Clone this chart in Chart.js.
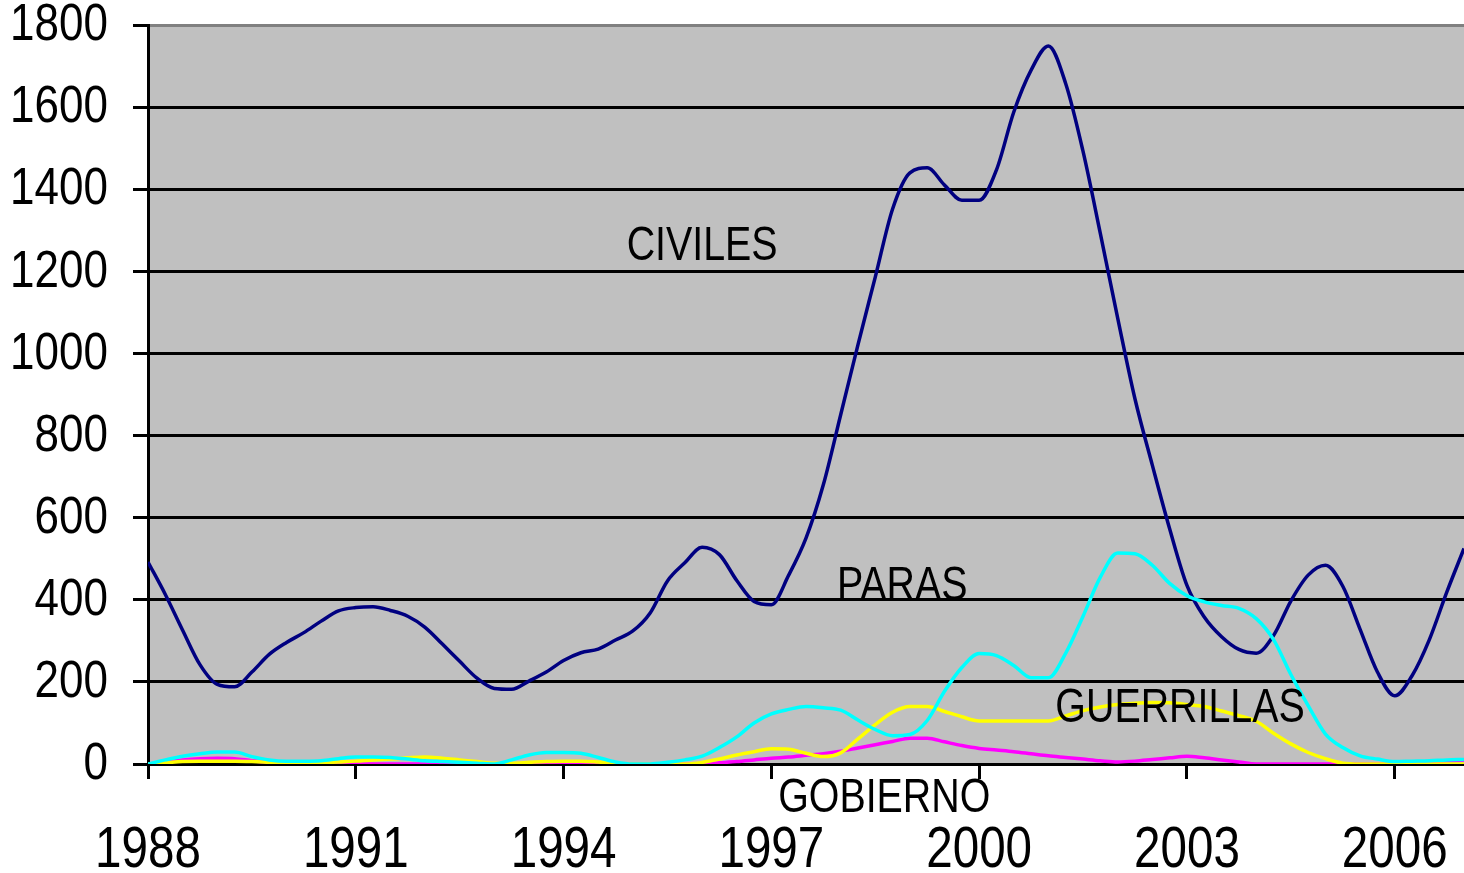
<!DOCTYPE html>
<html>
<head>
<meta charset="utf-8">
<title>Victimas 1988-2007</title>
<script src="https://cdn.jsdelivr.net/npm/chart.js@4.4.1/dist/chart.umd.min.js"></script>
<style>
    body { margin: 0; background: #fff; }
    #wrap { width: 1464px; height: 873px; }
</style>
</head>
<body>
<div id="wrap"><canvas id="victimas"></canvas></div>
<script>
// quarters 1988 - 2007
const quarters = [
    1988, 1988.25, 1988.5, 1988.75, 1989, 1989.25, 1989.5, 1989.75,
    1990, 1990.25, 1990.5, 1990.75, 1991, 1991.25, 1991.5, 1991.75,
    1992, 1992.25, 1992.5, 1992.75, 1993, 1993.25, 1993.5, 1993.75,
    1994, 1994.25, 1994.5, 1994.75, 1995, 1995.25, 1995.5, 1995.75,
    1996, 1996.25, 1996.5, 1996.75, 1997, 1997.25, 1997.5, 1997.75,
    1998, 1998.25, 1998.5, 1998.75, 1999, 1999.25, 1999.5, 1999.75,
    2000, 2000.25, 2000.5, 2000.75, 2001, 2001.25, 2001.5, 2001.75,
    2002, 2002.25, 2002.5, 2002.75, 2003, 2003.25, 2003.5, 2003.75,
    2004, 2004.25, 2004.5, 2004.75, 2005, 2005.25, 2005.5, 2005.75,
    2006, 2006.25, 2006.5, 2006.75, 2007
];

const civiles = [
    492, 413, 326, 242, 194, 188, 224, 267,
    296, 320, 348, 373, 381, 383, 374, 360,
    333, 292, 250, 209, 184, 182, 202, 224,
    252, 271, 280, 302, 324, 368, 446, 490,
    528, 510, 447, 396, 388, 460, 550, 680,
    850, 1021, 1186, 1352, 1440, 1452, 1410, 1373,
    1373, 1447, 1588, 1690, 1749, 1657, 1492, 1292,
    1086, 889, 728, 573, 435, 358, 310, 279,
    270, 313, 397, 460, 484, 433, 328, 224,
    166, 215, 303, 418, 525
];

const paras = [
    0, 10, 19, 25, 29, 29, 18, 10,
    7, 7, 8, 13, 17, 17, 16, 12,
    8, 6, 4, 2, 0, 10, 22, 28,
    28, 26, 16, 5, 0, 0, 4, 10,
    19, 40, 66, 100, 122, 133, 140, 137,
    131, 107, 84, 69, 72, 106, 177, 235,
    269, 264, 240, 210, 210, 270, 360, 455,
    514, 512, 484, 440, 410, 395, 386, 379,
    354, 303, 218, 142, 73, 40, 20, 12,
    6, 7, 8, 10, 11
];

const guerrillas = [
    0, 3, 6, 7, 7, 7, 6, 4,
    2, 2, 3, 5, 7, 10, 12, 15,
    17, 14, 10, 6, 2, 2, 4, 6,
    7, 7, 5, 2, 0, 0, 0, 0,
    4, 12, 22, 30, 37, 36, 26, 18,
    27, 61, 96, 126, 140, 140, 128, 115,
    105, 105, 105, 105, 105, 117, 130, 139,
    145, 148, 150, 149, 145, 140, 129, 118,
    104, 75, 49, 28, 13, 2, 0, 0,
    0, 0, 0, 0, 0
];

const gobierno = [
    0, 5, 10, 13, 14, 13, 8, 4,
    2, 1, 0, 0, 0, 0, 0, 0,
    0, 0, 0, 0, 0, 0, 0, 0,
    0, 0, 0, 0, 0, 0, 0, 0,
    0, 3, 6, 10, 14, 17, 21, 25,
    31, 39, 47, 55, 63, 63, 54, 45,
    38, 34, 30, 25, 20, 16, 12, 8,
    5, 7, 11, 15, 19, 15, 10, 5,
    0, 0, 0, 0, 0, 0, 0, 0,
    0, 3, 5, 7, 9
];

const xTicks = [1988, 1991, 1994, 1997, 2000, 2003, 2006];
const yTicks = [0, 200, 400, 600, 800, 1000, 1200, 1400, 1600, 1800];

// text labels placed in data coordinates
const seriesLabels = [
    { text: 'CIVILES', x: 1996.0, y: 1227 },
    { text: 'PARAS', x: 1998.89, y: 400 },
    { text: 'GUERRILLAS', x: 2002.9, y: 102 },
    { text: 'GOBIERNO', x: 1998.63, y: -117 }
];

const toPoints = vals => vals.map((v, i) => ({ x: quarters[i], y: v }));

// stretched text: the original picture was squeezed/stretched
function stretchText(c, text, x, y, size, sx, sy) {
    c.save();
    c.translate(x, y);
    c.scale(sx, sy);
    c.font = size + 'px "Liberation Sans", Arial, sans-serif';
    c.fillText(text, 0, 0);
    c.restore();
}

const plotBg = {
    id: 'plotBg',
    beforeDraw(chart) {
        const a = chart.chartArea;
        const c = chart.ctx;
        c.save();
        c.fillStyle = '#c0c0c0';
        c.fillRect(a.left, a.top, a.right - a.left, a.bottom - a.top);
        c.restore();
    }
};

const textLayer = {
    id: 'textLayer',
    afterDraw(chart) {
        const c = chart.ctx;
        const sx = chart.scales.x, sy = chart.scales.y;
        c.save();
        c.fillStyle = '#000';
        c.textAlign = 'center';
        c.textBaseline = 'alphabetic';
        seriesLabels.forEach(l => {
            stretchText(c, l.text, sx.getPixelForValue(l.x), sy.getPixelForValue(l.y), 48, 0.82, 1);
        });
        xTicks.forEach(v => {
            stretchText(c, String(v), sx.getPixelForValue(v), 867, 58, 0.82, 1);
        });
        c.textAlign = 'right';
        c.textBaseline = 'middle';
        yTicks.forEach(v => {
            stretchText(c, String(v), 108, sy.getPixelForValue(v) + 1, 44, 1, 1.17);
        });
        c.restore();
    }
};

const ctx = document.getElementById('victimas');

new Chart(ctx, {
    type: 'line',
    data: {
        datasets: [{
            label: 'CIVILES',
            data: toPoints(civiles),
            borderColor: '#000080',
            order: 4
        }, {
            label: 'GOBIERNO',
            data: toPoints(gobierno),
            borderColor: '#ff00ff',
            order: 3
        }, {
            label: 'GUERRILLAS',
            data: toPoints(guerrillas),
            borderColor: '#ffff00',
            order: 2
        }, {
            label: 'PARAS',
            data: toPoints(paras),
            borderColor: '#00ffff',
            order: 1
        }]
    },
    options: {
        responsive: true,
        maintainAspectRatio: false,
        animation: false,
        layout: {
            padding: { top: 25, right: 0, left: 0, bottom: 0 }
        },
        elements: {
            point: { radius: 0 },
            line: { borderWidth: 3.5, cubicInterpolationMode: 'monotone' }
        },
        scales: {
            x: {
                type: 'linear',
                min: 1988,
                max: 2007,
                afterBuildTicks: function (scale) {
                    scale.ticks = xTicks.map(v => ({ value: v }));
                },
                afterFit: function (scale) {
                    scale.height = 109;
                    scale.paddingLeft = 0;
                    scale.paddingRight = 0;
                },
                grid: {
                    drawOnChartArea: false,
                    color: '#000',
                    lineWidth: 3,
                    tickLength: 15
                },
                border: { display: true, color: '#000', width: 3 },
                ticks: { display: false }
            },
            y: {
                min: 0,
                max: 1800,
                afterBuildTicks: function (scale) {
                    scale.ticks = yTicks.map(v => ({ value: v }));
                },
                afterFit: function (scale) {
                    scale.width = 148;
                    scale.paddingTop = 0;
                    scale.paddingBottom = 0;
                },
                grid: {
                    color: function (context) {
                        return context.tick && context.tick.value === 1800 ? '#808080' : '#000';
                    },
                    tickColor: '#000',
                    lineWidth: 3,
                    tickLength: 15
                },
                border: { display: true, color: '#000', width: 3 },
                ticks: { display: false }
            }
        },
        plugins: {
            legend: { display: false },
            tooltip: { enabled: false }
        }
    },
    plugins: [plotBg, textLayer]
});
</script>
</body>
</html>
